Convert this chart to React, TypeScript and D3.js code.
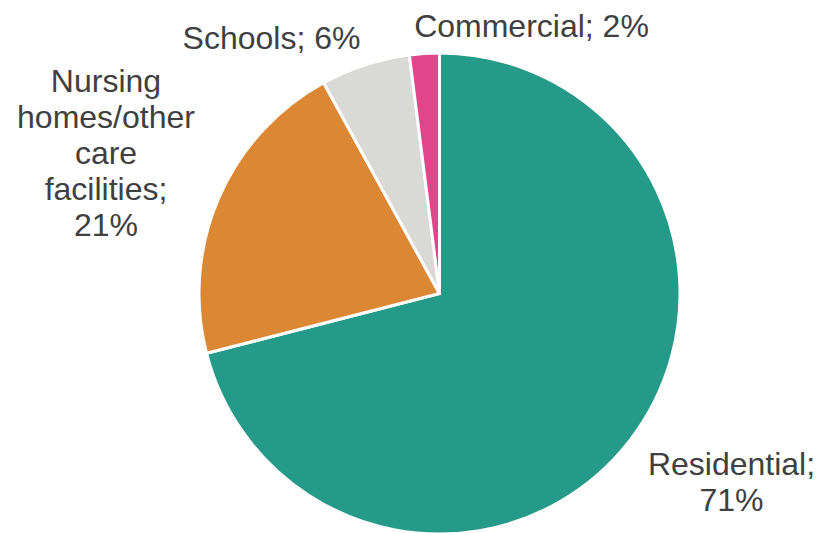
import React from "react";
import * as d3 from "d3";

const categories = ["Residential", "Nursing homes/other care facilities", "Schools", "Commercial"];
const values = [71, 21, 6, 2];
const colors = ["#269A89", "#DC8734", "#D9D9D6", "#E1468A"];
const labelLines = [
  ["Residential;", "71%"],
  ["Nursing", "homes/other", "care", "facilities;", "21%"],
  ["Schools; 6%"],
  ["Commercial; 2%"],
];

const W = 821;
const H = 533;
const cx = 439.5;
const cy = 293.5;
const R = 240.5;
const labelPos = [
  { x: 731.5, y: 475 },
  { x: 106, y: 91.5 },
  { x: 271.5, y: 49 },
  { x: 531.5, y: 36.5 },
];

export default function App() {
  const data = categories.map((c, i) => ({ c, v: values[i], i }));
  const pie = d3.pie<any>().value((d) => d.v).sort(null);
  const arcs = pie(data);
  const arc = d3.arc<any>().innerRadius(0).outerRadius(R);
  return (
    <svg width={W} height={H} style={{ position: "absolute", left: 0, top: 0 }}>
      <rect width={W} height={H} fill="#ffffff" />
      <g transform={`translate(${cx},${cy})`}>
        {arcs.map((a, i) => (
          <path key={i} d={arc(a) as string} fill={colors[i]} stroke="#ffffff" strokeWidth={3} strokeLinejoin="round" />
        ))}
      </g>
      {labelLines.map((lines, i) => (
        <text
          key={i}
          x={labelPos[i].x}
          y={labelPos[i].y}
          textAnchor="middle"
          fontFamily="'Liberation Sans', Arial, sans-serif"
          fontSize={32}
          fill="#404040"
        >
          {lines.map((l, j) => (
            <tspan key={j} x={labelPos[i].x} dy={j === 0 ? 0 : 36}>
              {l}
            </tspan>
          ))}
        </text>
      ))}
    </svg>
  );
}
